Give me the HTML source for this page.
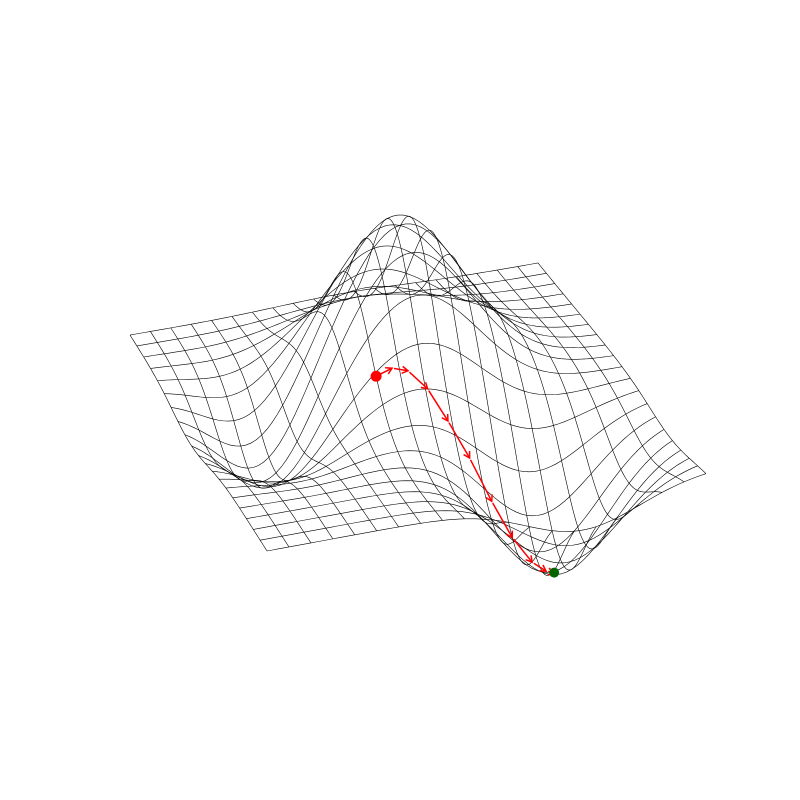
<!DOCTYPE html>
<html><head><meta charset="utf-8"><style>html,body{margin:0;background:#fff}svg{display:block}</style></head>
<body>
<svg id="chart" width="800" height="800" viewBox="0 0 800 800" xmlns="http://www.w3.org/2000/svg">
<g id="wire"></g>
<g id="path"></g>
</svg>
<script>
// Surface features (grid coords u,v in [0,1]; amplitude in px-height units)
const bumpU = [0.38, 0.80, 0.44];
const bumpV = [0.52, 0.72, 0.18];
const bumpAmp = [160, -122, -72];
const bumpSu = [0.14, 0.13, 0.13];
const bumpSv = [0.15, 0.13, 0.10];
const gridN = 20;
// Descent path (grid coords)
const pathU = [0.555, 0.562, 0.575, 0.60, 0.635, 0.67, 0.71, 0.745, 0.775, 0.795, 0.805];
const pathV = [0.40, 0.435, 0.468, 0.505, 0.54, 0.578, 0.615, 0.65, 0.685, 0.71, 0.725];

const L=[130,335],F=[267,551],B=[538,263],R=[706,470];
function f(u,v){let z=0;for(let i=0;i<bumpU.length;i++){const a=(u-bumpU[i])/bumpSu[i],b=(v-bumpV[i])/bumpSv[i];z+=bumpAmp[i]*Math.exp(-0.5*(a*a+b*b));}return z;}
function P(u,v){const w=[(1-u)*(1-v),u*(1-v),(1-u)*v,u*v];
 const x=w[0]*L[0]+w[1]*F[0]+w[2]*B[0]+w[3]*R[0];
 const y=w[0]*L[1]+w[1]*F[1]+w[2]*B[1]+w[3]*R[1];
 return [x,y-f(u,v)];}
const NS="http://www.w3.org/2000/svg";
const wire=document.getElementById('wire');
const S=80;
for(let d=0;d<2;d++){for(let i=0;i<=gridN;i++){let pts=[];for(let k=0;k<=S;k++){const a=i/gridN,b=k/S;const p=d?P(a,b):P(b,a);pts.push(p[0].toFixed(2)+','+p[1].toFixed(2));}
 const pl=document.createElementNS(NS,'polyline');pl.setAttribute('points',pts.join(' '));pl.setAttribute('fill','none');pl.setAttribute('stroke','#000');pl.setAttribute('stroke-width','0.6');
 
 
 wire.appendChild(pl);}}
const pg=document.getElementById('path');
for(let i=0;i<pathU.length-1;i++){const a=P(pathU[i],pathV[i]),b=P(pathU[i+1],pathV[i+1]);
 const dx=b[0]-a[0],dy=b[1]-a[1],len=Math.hypot(dx,dy),ux=dx/len,uy=dy/len;
 const ln=document.createElementNS(NS,'line');ln.setAttribute('x1',a[0]+ux*2);ln.setAttribute('y1',a[1]+uy*2);ln.setAttribute('x2',b[0]);ln.setAttribute('y2',b[1]);ln.setAttribute('stroke','red');ln.setAttribute('stroke-width','1.5');
 
 
 pg.appendChild(ln);
 const hd=document.createElementNS(NS,'polyline');const s=6,w=3.5;
 hd.setAttribute('points',`${b[0]-ux*s-uy*w},${b[1]-uy*s+ux*w} ${b[0]},${b[1]} ${b[0]-ux*s+uy*w},${b[1]-uy*s-ux*w}`);
 hd.setAttribute('fill','none');hd.setAttribute('stroke','red');hd.setAttribute('stroke-width','1.5');
 
 
 pg.appendChild(hd);}
const s0=P(pathU[0],pathV[0]),s1=P(pathU[pathU.length-1],pathV[pathV.length-1]);
const c0=document.createElementNS(NS,'circle');c0.setAttribute('cx',s0[0]);c0.setAttribute('cy',s0[1]);c0.setAttribute('r','5.5');c0.setAttribute('fill','red');


pg.appendChild(c0);
const c1=document.createElementNS(NS,'circle');c1.setAttribute('cx',s1[0]);c1.setAttribute('cy',s1[1]);c1.setAttribute('r','5');c1.setAttribute('fill','#006400');


pg.appendChild(c1);
</script>
</body></html>
